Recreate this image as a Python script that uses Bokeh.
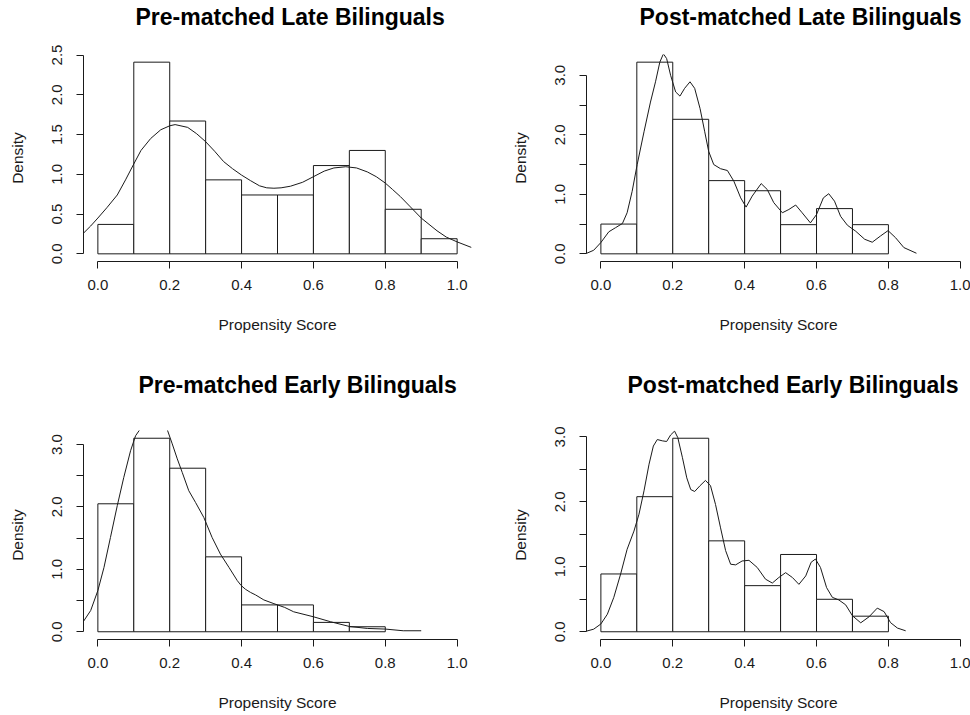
from bokeh.plotting import figure
from bokeh.models import Range1d, FixedTicker, PrintfTickFormatter, Title
from bokeh.layouts import column, row
from bokeh.embed import file_html
from bokeh.resources import INLINE

# ---------------- data ----------------
bin_edges = [0.0, 0.1, 0.2, 0.3, 0.4, 0.5, 0.6, 0.7, 0.8, 0.9, 1.0]
x_ticks = [0.0, 0.2, 0.4, 0.6, 0.8, 1.0]

pre_late_bars = [0.37, 2.41, 1.67, 0.93, 0.74, 0.74, 1.11, 1.30, 0.56, 0.19]
post_late_bars = [0.50, 3.22, 2.26, 1.23, 1.06, 0.49, 0.76, 0.49]
pre_early_bars = [2.05, 3.10, 2.62, 1.20, 0.43, 0.43, 0.15, 0.08]
post_early_bars = [0.89, 2.08, 2.98, 1.40, 0.71, 1.19, 0.50, 0.24]

pre_late_kx = [-0.04, -0.02, 0.0, 0.025, 0.054, 0.077, 0.1, 0.12, 0.147, 0.175,
               0.2, 0.215, 0.25, 0.275, 0.3, 0.325, 0.35, 0.375, 0.4, 0.425,
               0.45, 0.47, 0.49, 0.51, 0.536, 0.57, 0.6, 0.63, 0.657, 0.69,
               0.72, 0.75, 0.775, 0.8, 0.82, 0.842, 0.87, 0.9, 0.944, 0.97,
               1.0, 1.04]
pre_late_ky = [0.26, 0.35, 0.45, 0.58, 0.74, 0.93, 1.13, 1.30, 1.45, 1.56,
               1.61, 1.625, 1.59, 1.51, 1.41, 1.29, 1.16, 1.07, 0.99, 0.92,
               0.855, 0.83, 0.825, 0.83, 0.85, 0.90, 0.97, 1.04, 1.08, 1.095,
               1.08, 1.03, 0.97, 0.89, 0.81, 0.72, 0.59, 0.45, 0.29, 0.21,
               0.15, 0.08]

post_late_kx = [-0.043, -0.02, 0.0, 0.022, 0.041, 0.06, 0.073, 0.087, 0.101, 0.12,
                0.138, 0.152, 0.164, 0.174, 0.183, 0.194, 0.208, 0.22, 0.233, 0.248,
                0.261, 0.276, 0.289, 0.30, 0.314, 0.333, 0.352, 0.37, 0.389, 0.404,
                0.421, 0.446, 0.463, 0.481, 0.505, 0.523, 0.542, 0.56, 0.583, 0.60,
                0.619, 0.634, 0.65, 0.667, 0.686, 0.709, 0.734, 0.755, 0.778, 0.799,
                0.82, 0.843, 0.878]
post_late_ky = [0.0, 0.06, 0.19, 0.37, 0.44, 0.51, 0.69, 1.05, 1.50, 2.05,
                2.55, 2.89, 3.22, 3.36, 3.28, 3.0, 2.72, 2.65, 2.78, 2.89,
                2.78, 2.44, 2.05, 1.72, 1.50, 1.43, 1.40, 1.22, 0.94, 0.785,
                0.97, 1.18, 1.08, 0.86, 0.69, 0.745, 0.82, 0.69, 0.52, 0.66,
                0.94, 1.01, 0.885, 0.63, 0.48, 0.38, 0.245, 0.195, 0.30, 0.39,
                0.27, 0.105, 0.01]

pre_early_kx = [-0.042, -0.02, 0.0, 0.017, 0.035, 0.054, 0.072, 0.091, 0.105, 0.117,
                0.13, 0.145, 0.16, 0.175, 0.185, 0.193, 0.207, 0.221, 0.235, 0.253,
                0.272, 0.295, 0.318, 0.341, 0.365, 0.388, 0.399, 0.411, 0.425, 0.439,
                0.462, 0.49, 0.52, 0.545, 0.6, 0.648, 0.70, 0.75, 0.80, 0.85,
                0.90]
pre_early_ky = [0.15, 0.34, 0.66, 1.03, 1.51, 2.02, 2.47, 2.90, 3.14, 3.24,
                3.36, 3.44, 3.46, 3.40, 3.32, 3.24, 3.01, 2.77, 2.55, 2.26,
                2.07, 1.83, 1.51, 1.245, 1.03, 0.82, 0.74, 0.68, 0.63, 0.59,
                0.51, 0.45, 0.39, 0.32, 0.24, 0.16, 0.085, 0.053, 0.043, 0.016,
                0.016]

post_early_kx = [-0.043, -0.02, 0.0, 0.018, 0.036, 0.055, 0.073, 0.092, 0.106, 0.12,
                 0.134, 0.146, 0.157, 0.171, 0.183, 0.194, 0.205, 0.214, 0.227, 0.239,
                 0.25, 0.261, 0.276, 0.291, 0.305, 0.319, 0.333, 0.347, 0.361, 0.375,
                 0.393, 0.412, 0.435, 0.458, 0.477, 0.495, 0.514, 0.533, 0.551, 0.57,
                 0.585, 0.597, 0.611, 0.628, 0.644, 0.662, 0.681, 0.70, 0.723, 0.746,
                 0.769, 0.788, 0.806, 0.825, 0.848]
post_early_ky = [0.005, 0.04, 0.12, 0.27, 0.53, 0.89, 1.27, 1.55, 1.81, 2.17,
                 2.58, 2.86, 2.96, 2.94, 2.93, 3.03, 3.09, 2.99, 2.68, 2.37,
                 2.19, 2.16, 2.25, 2.33, 2.25, 1.96, 1.60, 1.25, 1.04, 1.03,
                 1.09, 1.10, 0.99, 0.81, 0.75, 0.835, 0.91, 0.835, 0.73, 0.86,
                 1.07, 1.12, 0.99, 0.68, 0.53, 0.49, 0.415, 0.246, 0.138, 0.23,
                 0.364, 0.31, 0.14, 0.057, 0.015]

titles = ["Pre-matched Late Bilinguals", "Post-matched Late Bilinguals",
          "Pre-matched Early Bilinguals", "Post-matched Early Bilinguals"]

FONT = "Liberation Sans"
INK = "#1a1a1a"


def panel(title, bars, kx, ky, ytop, half_labels, x_end, width, height,
          bl, br, bt, bb, t_off, gap):
    ymax = max(bars)
    p = figure(width=width, height=height,
               x_range=Range1d(-0.04, x_end),
               y_range=Range1d(-0.04 * ymax, 1.04 * ymax),
               output_backend="svg", toolbar_location=None,
               min_border_left=bl, min_border_right=br,
               min_border_top=bt, min_border_bottom=bb,
               background_fill_color="white", border_fill_color="white")
    p.outline_line_color = None
    p.xgrid.visible = False
    p.ygrid.visible = False

    n = len(bars)
    p.quad(left=bin_edges[:n], right=bin_edges[1:n + 1], bottom=0, top=bars,
           fill_color="white", line_color=INK, line_width=1)
    p.line(kx, ky, line_color=INK, line_width=1)

    # invisible spacer between the frame and the title
    p.add_layout(Title(text=" ", text_font_size="1px", standoff=gap), "above")

    p.title.text = title
    p.title.align = "left"
    p.title.offset = t_off
    p.title.standoff = 2
    p.title.text_font = FONT
    p.title.text_font_size = "23px"
    p.title.text_font_style = "bold"
    p.title.text_color = "black"

    for ax in (p.xaxis[0], p.yaxis[0]):
        ax.axis_line_color = INK
        ax.major_tick_line_color = INK
        ax.major_tick_out = 7
        ax.major_tick_in = 0
        ax.minor_tick_out = 0
        ax.minor_tick_in = 0
        ax.major_label_text_font = FONT
        ax.major_label_text_font_size = "15px"
        ax.major_label_text_color = INK
        ax.axis_label_text_font = FONT
        ax.axis_label_text_font_size = "15.5px"
        ax.axis_label_text_font_style = "normal"
        ax.axis_label_text_color = INK
        ax.formatter = PrintfTickFormatter(format="%.1f")

    xa = p.xaxis[0]
    xa.ticker = FixedTicker(ticks=x_ticks, minor_ticks=[])
    xa.bounds = (0, 1)
    xa.major_label_standoff = 11
    xa.axis_label = "Propensity Score"
    xa.axis_label_standoff = 23

    ya = p.yaxis[0]
    yt = [i * 0.5 for i in range(int(round(ytop / 0.5)) + 1)]
    ya.ticker = FixedTicker(ticks=yt, minor_ticks=[])
    ya.bounds = (0, ytop)
    ya.major_label_orientation = "vertical"
    ya.major_label_standoff = 14
    if not half_labels:
        ya.major_label_overrides = {t: "" for t in yt if abs(t - round(t)) > 1e-9}
    ya.axis_label = "Density"
    ya.axis_label_standoff = 24
    return p


p1 = panel(titles[0], pre_late_bars, pre_late_kx, pre_late_ky, 2.5, True,
           1.04, 485, 350, 83, 14, 52, 89, 52, 21)
p2 = panel(titles[1], post_late_bars, post_late_kx, post_late_ky, 3.0, False,
           1.0284, 485, 350, 101, 0, 52, 89, 53, 21)
p3 = panel(titles[2], pre_early_bars, pre_early_kx, pre_early_ky, 3.0, False,
           1.04, 485, 365, 83, 14, 80, 76, 55, 29)
p4 = panel(titles[3], post_early_bars, post_early_kx, post_early_ky, 3.0, False,
           1.0284, 485, 365, 101, 0, 80, 76, 41, 29)

layout = column(row(p1, p2), row(p3, p4))
open("out.html", "w").write(file_html(layout, INLINE))
